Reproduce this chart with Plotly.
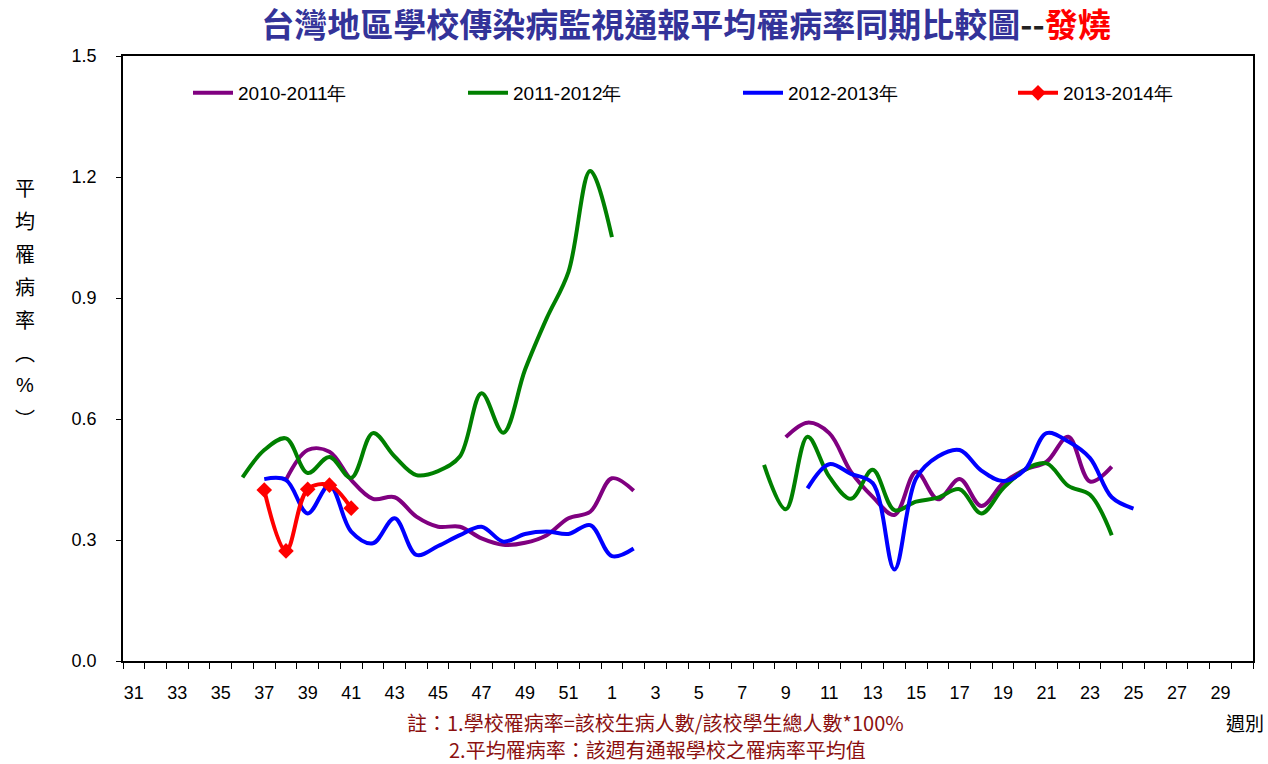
import plotly.graph_objects as go

# ---- data ----
weeks = [str(w) for w in range(31, 53)] + [str(w) for w in range(1, 31)]

def series(pairs):
    d = dict(pairs)
    return [d.get(w) for w in weeks]

s_2010 = series([
    ("38", 0.449), ("39", 0.523), ("40", 0.519), ("41", 0.449), ("42", 0.402),
    ("43", 0.406), ("44", 0.358), ("45", 0.333), ("46", 0.333), ("47", 0.304),
    ("48", 0.288), ("49", 0.293), ("50", 0.312), ("51", 0.354), ("52", 0.370),
    ("1", 0.453), ("2", 0.422),
    ("9", 0.555), ("10", 0.591), ("11", 0.565), ("12", 0.469), ("13", 0.407),
    ("14", 0.362), ("15", 0.469), ("16", 0.401), ("17", 0.451), ("18", 0.384),
    ("19", 0.441), ("20", 0.474), ("21", 0.494), ("22", 0.556), ("23", 0.445),
    ("24", 0.482),
])
s_2011 = series([
    ("36", 0.455), ("37", 0.523), ("38", 0.552), ("39", 0.466), ("40", 0.506),
    ("41", 0.454), ("42", 0.565), ("43", 0.507), ("44", 0.461), ("45", 0.471),
    ("46", 0.507), ("47", 0.664), ("48", 0.566), ("49", 0.722), ("50", 0.850),
    ("51", 0.965), ("52", 1.215), ("1", 1.051),
    ("8", 0.486), ("9", 0.376), ("10", 0.556), ("11", 0.457), ("12", 0.402),
    ("13", 0.474), ("14", 0.374), ("15", 0.395), ("16", 0.405), ("17", 0.426),
    ("18", 0.366), ("19", 0.428), ("20", 0.474), ("21", 0.490), ("22", 0.434),
    ("23", 0.412), ("24", 0.312),
])
s_2012 = series([
    ("37", 0.451), ("38", 0.449), ("39", 0.366), ("40", 0.436), ("41", 0.321),
    ("42", 0.292), ("43", 0.354), ("44", 0.263), ("45", 0.285), ("46", 0.312),
    ("47", 0.333), ("48", 0.296), ("49", 0.315), ("50", 0.321), ("51", 0.315),
    ("52", 0.337), ("1", 0.260), ("2", 0.279),
    ("10", 0.428), ("11", 0.488), ("12", 0.464), ("13", 0.441), ("14", 0.227),
    ("15", 0.453), ("16", 0.507), ("17", 0.523), ("18", 0.472), ("19", 0.446),
    ("20", 0.474), ("21", 0.565), ("22", 0.544), ("23", 0.503), ("24", 0.406),
    ("25", 0.378),
])
s_2013 = series([
    ("37", 0.424), ("38", 0.273), ("39", 0.426), ("40", 0.436), ("41", 0.379),
])

series_names = ["2010-2011年", "2011-2012年", "2012-2013年", "2013-2014年"]
series_colors = ["#800080", "#008000", "#0000FF", "#FF0000"]
tick_labels = weeks[::2]

title_main = "台灣地區學校傳染病監視通報平均罹病率同期比較圖"
title_sub = "發燒"
y_title_chars = ["平", "均", "罹", "病", "率", "︵", "%", "︶"]
note1 = "註：1.學校罹病率=該校生病人數/該校學生總人數*100%"
note2 = "2.平均罹病率：該週有通報學校之罹病率平均值"
x_title = "週別"

# ---- figure ----
W, H = 1268, 764
L, R, T, B = 123, 15, 56, 103
pw, ph = W - L - R, H - T - B

def px_to_paper_x(px):
    return (px - L) / pw

def px_to_paper_y(py):
    return (H - B - py) / ph

CJK = "Noto Sans CJK TC, Noto Sans CJK SC, sans-serif"
ARIAL = "Arial, Liberation Sans, sans-serif"

legend_keys = ["legend", "legend2", "legend3", "legend4"]

xs = list(range(len(weeks)))
fig = go.Figure()
for k, (name, vals, col) in enumerate(zip(series_names, [s_2010, s_2011, s_2012, s_2013], series_colors)):
    is_red = name == "2013-2014年"
    fig.add_trace(go.Scatter(
        x=xs, y=vals, name=name, legend=legend_keys[k],
        mode="lines+markers" if is_red else "lines",
        line=dict(color=col, width=4, shape="spline", smoothing=1.0),
        marker=dict(symbol="diamond", size=12, color=col) if is_red else None,
        connectgaps=False,
    ))

legend_layout = {}
for k, key in enumerate(legend_keys):
    legend_layout[key] = dict(
        orientation="h", x=px_to_paper_x(188 + 275 * k), y=px_to_paper_y(93),
        xanchor="left", yanchor="middle",
        font=dict(family=ARIAL, size=19, color="black"),
        bgcolor="rgba(0,0,0,0)", itemwidth=40,
    )

annotations = []
for i, ch in enumerate(y_title_chars):
    annotations.append(dict(
        text=ch, x=px_to_paper_x(25), y=px_to_paper_y(187 + i * 33),
        xref="paper", yref="paper", showarrow=False,
        xanchor="center", yanchor="middle",
        font=dict(family=CJK if ch != "%" else ARIAL, size=20, color="black"),
    ))
annotations.append(dict(
    text=note1, x=px_to_paper_x(655), y=px_to_paper_y(722), xref="paper", yref="paper",
    showarrow=False, xanchor="center", yanchor="middle",
    font=dict(family=CJK, size=20, color="#8B1010"),
))
annotations.append(dict(
    text=note2, x=px_to_paper_x(657), y=px_to_paper_y(749), xref="paper", yref="paper",
    showarrow=False, xanchor="center", yanchor="middle",
    font=dict(family=CJK, size=20, color="#8B1010"),
))
annotations.append(dict(
    text=x_title, x=px_to_paper_x(1245), y=px_to_paper_y(722), xref="paper", yref="paper",
    showarrow=False, xanchor="center", yanchor="middle",
    font=dict(family=CJK, size=19, color="black"),
))

fig.update_layout(
    width=W, height=H,
    margin=dict(l=L, r=R, t=T, b=B),
    paper_bgcolor="white", plot_bgcolor="white",
    title=dict(
        text=f"<b><span style='color:#333399'>{title_main}</span>"
             f"<span style='color:#222222'>--</span>"
             f"<span style='color:#FF0000'>{title_sub}</span></b>",
        x=686 / W, xanchor="center", y=1 - 25 / H, yanchor="middle",
        font=dict(family=CJK, size=33, color="#333399"),
    ),
    showlegend=True,
    annotations=annotations,
    font=dict(family=ARIAL, color="black"),
    **legend_layout,
)

fig.update_xaxes(
    range=[-0.5, len(weeks) - 0.5],
    tickmode="array", tickvals=xs[::2], ticktext=tick_labels,
    ticks="", showgrid=False, zeroline=False,
    showline=True, linecolor="black", linewidth=1.5, mirror=True,
    tickfont=dict(family=ARIAL, size=18, color="black"),
    ticklabelstandoff=15,
    minor=dict(tickmode="linear", tick0=-0.5, dtick=1, ticks="outside",
               ticklen=6, tickcolor="black", tickwidth=1, showgrid=False),
)
fig.update_yaxes(
    range=[0, 1.5], tickmode="linear", tick0=0, dtick=0.3, tickformat=".1f",
    ticks="outside", ticklen=5, tickcolor="black",
    showgrid=False, zeroline=False,
    showline=True, linecolor="black", linewidth=1.5, mirror=True,
    tickfont=dict(family=ARIAL, size=18, color="black"),
    ticklabelstandoff=16,
)

fig.write_html("out.html", config={"displayModeBar": False},
               post_script="document.body.style.margin='0';")
